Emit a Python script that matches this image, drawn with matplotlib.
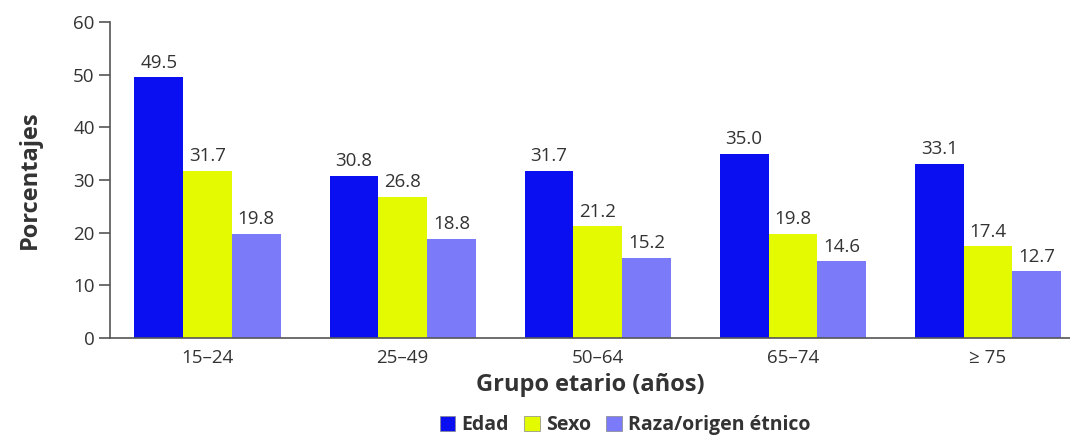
import matplotlib
matplotlib.use("Agg")
import matplotlib.pyplot as plt
import numpy as np
from matplotlib.patches import Patch

categories = ["15–24", "25–49", "50–64", "65–74", "≥ 75"]
series_names = ["Edad", "Sexo", "Raza/origen étnico"]
edad = [49.5, 30.8, 31.7, 35.0, 33.1]
sexo = [31.7, 26.8, 21.2, 19.8, 17.4]
raza = [19.8, 18.8, 15.2, 14.6, 12.7]
colors = ["#0a0ff2", "#e4fa00", "#7b7bfa"]
yticks = [0, 10, 20, 30, 40, 50, 60]

plt.rcParams['font.family'] = ['Open Sans', 'DejaVu Sans']
txt = "#333333"

fig = plt.figure(figsize=(10.7, 4.36), dpi=100)
ax = fig.add_axes([110/1070, 98/436, 960/1070, 316/436])

x = np.arange(len(categories))
w = 0.25
for i, (vals, c) in enumerate(zip([edad, sexo, raza], colors)):
    bars = ax.bar(x + (i - 1) * w, vals, width=w, color=c, edgecolor="none")
    for b, v in zip(bars, vals):
        ax.annotate(f"{v:.1f}", (b.get_x() + b.get_width()/2, v),
                    xytext=(0, 4), textcoords="offset points",
                    ha="center", va="bottom", fontsize=13.5, color=txt)

ax.set_xlim(-0.5, 4.42)
ax.set_ylim(0, 60)
ax.set_yticks(yticks)
ax.set_xticks(x)
ax.set_xticklabels(categories)
ax.tick_params(axis="y", length=8, width=1.2, color="#555555", labelsize=13.5, labelcolor=txt, pad=3)
ax.tick_params(axis="x", length=0, labelsize=13.5, labelcolor=txt, pad=8)
for s in ["top", "right"]:
    ax.spines[s].set_visible(False)
for s in ["left", "bottom"]:
    ax.spines[s].set_color("#555555")
    ax.spines[s].set_linewidth(1.2)

ax.set_xlabel("Grupo etario (años)", fontsize=17, fontweight="bold", color=txt, labelpad=4)
fig.text(30/1070, (436-180)/436, "Porcentajes", rotation=90, fontsize=17,
         fontweight="bold", color=txt, ha="center", va="center")

handles = [Patch(facecolor=c, edgecolor="#888888", linewidth=0.5) for c in colors]
fig.legend(handles, series_names, loc="center", bbox_to_anchor=(625/1070, 1 - 425/436),
           ncol=3, frameon=False, prop={"weight": "bold", "size": 14},
           handlelength=0.8, handleheight=0.8, handletextpad=0.3, columnspacing=0.8,
           labelcolor=txt)

fig.savefig("out.png", dpi=100)
